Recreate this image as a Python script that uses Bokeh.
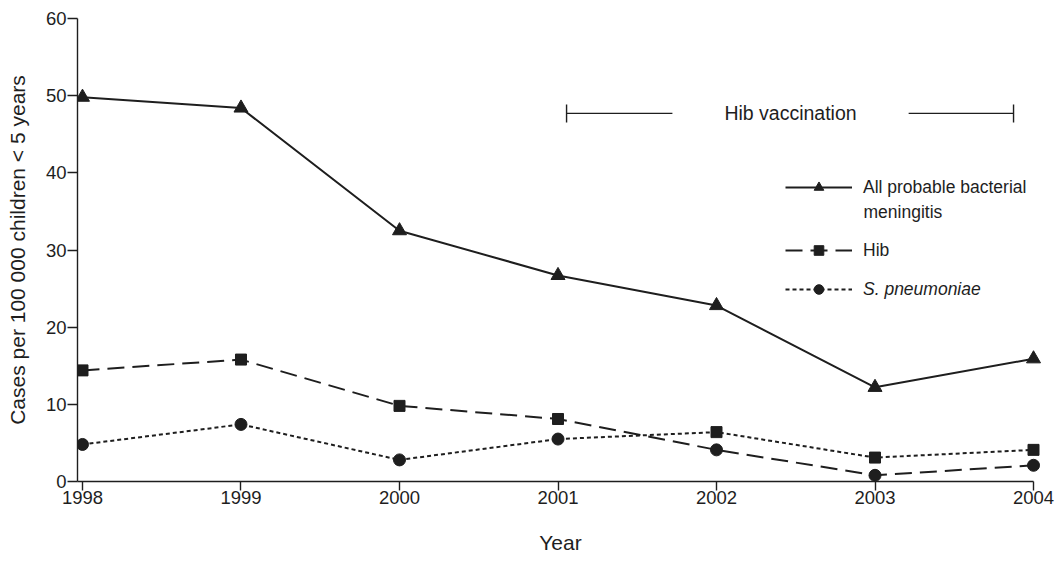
from bokeh.plotting import figure
from bokeh.models import Range1d, FixedTicker, Legend, LegendItem, Whisker, TeeHead, Label
from bokeh.embed import file_html
from bokeh.resources import INLINE

# ---- data ----
years = [1998, 1999, 2000, 2001, 2002, 2003, 2004]
all_bm = [49.8, 48.4, 32.5, 26.7, 22.8, 12.2, 15.9]   # All probable bacterial meningitis
hib = [14.4, 15.8, 9.8, 8.1, 4.1, 0.8, 2.1]           # Hib
spn = [4.8, 7.4, 2.8, 5.5, 6.4, 3.1, 4.1]             # S. pneumoniae
swap_at = 4   # in the printed figure the square/circle markers switch lines from 2002 on
y_ticks = [0, 10, 20, 30, 40, 50, 60]
vacc_start, vacc_end = 2001.054, 2003.874
vacc_label_x = 2002.467
vacc_level = 47.7
vacc_text = "Hib vaccination"
legend_labels = ["All probable bacterial", "meningitis", "Hib", "S. pneumoniae"]

FONT = "Liberation Sans"
INK = "#1e1e1e"

p = figure(width=1060, height=563,
           x_range=Range1d(1997.9685, 2004.063), y_range=Range1d(0, 60),
           output_backend="svg", toolbar_location=None,
           min_border_left=77, min_border_right=17, min_border_top=18, min_border_bottom=82)
p.outline_line_color = None
p.xgrid.visible = False
p.ygrid.visible = False
p.background_fill_color = "white"
p.border_fill_color = "white"

# axes
for ax in (p.xaxis[0], p.yaxis[0]):
    ax.axis_line_color = INK
    ax.axis_line_width = 1.4
    ax.major_tick_line_color = INK
    ax.major_tick_line_width = 1.4
    ax.minor_tick_line_color = None
    ax.major_tick_in = 0
    ax.major_label_text_font = FONT
    ax.major_label_text_font_size = "18.5px"
    ax.major_label_text_color = INK
    ax.axis_label_text_font = FONT
    ax.axis_label_text_font_size = "21px"
    ax.axis_label_text_font_style = "normal"
    ax.axis_label_text_color = INK

xa = p.xaxis[0]
xa.ticker = FixedTicker(ticks=years)
xa.bounds = (1997.9685, years[-1])
xa.major_tick_out = 9
xa.major_label_standoff = 0
xa.axis_label = "Year"
xa.axis_label_standoff = 24

ya = p.yaxis[0]
ya.ticker = FixedTicker(ticks=y_ticks)
ya.bounds = (y_ticks[0], y_ticks[-1])
ya.major_tick_out = 10
ya.major_label_standoff = 1
ya.axis_label = "Cases per 100 000 children < 5 years"
ya.axis_label_standoff = 14

# lines
l_all = p.line(years, all_bm, line_color=INK, line_width=2)
l_hib = p.line(years, hib, line_color=INK, line_width=2, line_dash="17 8")
l_spn = p.line(years, spn, line_color=INK, line_width=2, line_dash="4 3")

# markers
m_tri = p.scatter(years, all_bm, marker="triangle", size=14, fill_color=INK, line_color=INK)
sq_x = years[:swap_at] + years[swap_at:]
sq_y = hib[:swap_at] + spn[swap_at:]
ci_y = spn[:swap_at] + hib[swap_at:]
m_sq = p.scatter(sq_x, sq_y, marker="square", size=11, fill_color=INK, line_color=INK)
m_ci = p.scatter(sq_x, ci_y, marker="circle", size=12, fill_color=INK, line_color=INK)

# Hib vaccination bracket
wh = Whisker(base=vacc_level, lower=vacc_start, upper=vacc_end, dimension="width",
             line_color=INK, line_width=1.4,
             lower_head=TeeHead(size=18, line_color=INK, line_width=1.4),
             upper_head=TeeHead(size=18, line_color=INK, line_width=1.4))
p.add_layout(wh)
lab = Label(x=vacc_label_x, y=vacc_level, text=vacc_text,
            text_align="center", text_baseline="middle",
            text_font=FONT, text_font_size="19.5px", text_color=INK,
            background_fill_color="white", padding=52)
p.add_layout(lab)

# legends
def make_legend(items, loc, italic=False):
    lg = Legend(items=items, location=loc)
    lg.border_line_color = None
    lg.background_fill_alpha = 0
    lg.padding = 0
    lg.margin = 0
    lg.spacing = 0
    lg.glyph_width = 67
    lg.glyph_height = 24
    lg.label_standoff = 11
    lg.label_height = 24
    lg.label_text_font = FONT
    lg.label_text_font_size = "17.5px"
    lg.label_text_color = INK
    if italic:
        lg.label_text_font_style = "italic"
    p.add_layout(lg)
    return lg

make_legend([LegendItem(label=legend_labels[0], renderers=[l_all, m_tri])], (708, 282))
p.add_layout(Label(x=786, y=270, x_units="screen", y_units="screen", text=legend_labels[1],
                   text_align="left", text_baseline="middle",
                   text_font=FONT, text_font_size="17.5px", text_color=INK))
make_legend([LegendItem(label=legend_labels[2], renderers=[l_hib, m_sq])], (708, 219))
make_legend([LegendItem(label=legend_labels[3], renderers=[l_spn, m_ci])], (708, 180), italic=True)

open("out.html", "w").write(file_html(p, INLINE))
